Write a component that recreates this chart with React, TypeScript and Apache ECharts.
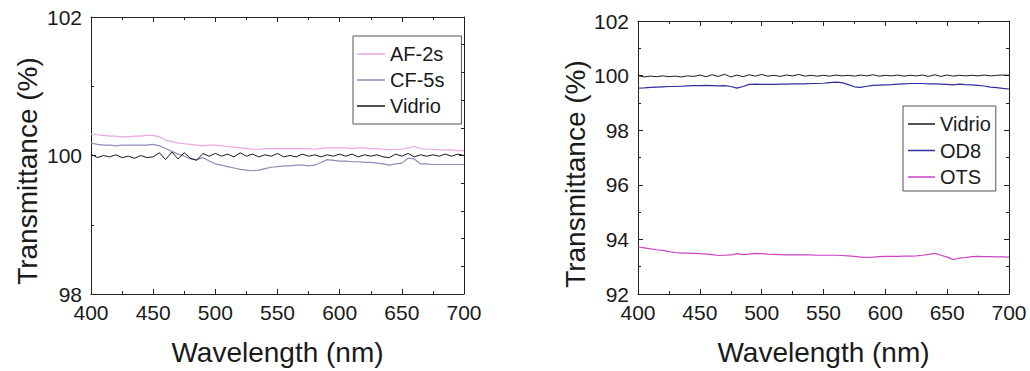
import React, { useEffect, useRef } from "react";
import * as echarts from "echarts";

const wavelength = [
  400, 405, 410, 415, 420, 425, 430, 435, 440, 445, 450, 455, 460, 465, 470, 475, 480, 485, 490, 495,
  500, 505, 510, 515, 520, 525, 530, 535, 540, 545, 550, 555, 560, 565, 570, 575, 580, 585, 590, 595,
  600, 605, 610, 615, 620, 625, 630, 635, 640, 645, 650, 655, 660, 665, 670, 675, 680, 685, 690, 695, 700,
];

const af2s = [
  100.31, 100.3, 100.29, 100.28, 100.28, 100.27, 100.27, 100.28, 100.28, 100.29, 100.29, 100.27, 100.22, 100.2, 100.18, 100.17, 100.16, 100.15, 100.14, 100.15,
  100.15, 100.14, 100.13, 100.12, 100.11, 100.1, 100.09, 100.09, 100.1, 100.1, 100.1, 100.1, 100.1, 100.1, 100.1, 100.1, 100.09, 100.1, 100.11, 100.11,
  100.11, 100.11, 100.1, 100.11, 100.11, 100.1, 100.1, 100.09, 100.08, 100.09, 100.09, 100.11, 100.13, 100.1, 100.09, 100.09, 100.08, 100.08, 100.08, 100.07, 100.07,
];

const cf5s = [
  100.18, 100.16, 100.15, 100.15, 100.14, 100.15, 100.15, 100.15, 100.15, 100.15, 100.16, 100.14, 100.1, 100.06, 100.02, 99.99, 99.95, 99.94, 99.97, 99.92,
  99.88, 99.86, 99.84, 99.82, 99.8, 99.79, 99.78, 99.79, 99.81, 99.83, 99.84, 99.85, 99.85, 99.86, 99.86, 99.85, 99.86, 99.9, 99.94, 99.93,
  99.92, 99.92, 99.91, 99.91, 99.9, 99.9, 99.89, 99.88, 99.86, 99.88, 99.89, 99.96, 99.95, 99.88, 99.88, 99.87, 99.87, 99.87, 99.87, 99.87, 99.87,
];

const vidrioLeft = [
  100.02, 99.97, 100.0, 99.98, 100.01, 99.97, 99.99, 99.96, 100.0, 99.97, 99.98, 100.04, 99.94, 100.05, 99.95, 100.04, 99.96, 99.93, 100.03, 99.99,
  100.03, 99.99, 100.02, 99.98, 100.04, 99.99, 100.02, 99.98, 100.01, 99.99, 100.03, 99.98, 100.0, 99.98, 100.02, 99.99, 100.01, 99.98, 100.01, 99.99,
  100.02, 99.99, 100.02, 99.98, 100.01, 99.99, 100.01, 99.98, 99.97, 100.02, 99.99, 100.03, 99.98, 100.01, 99.99, 100.01, 99.99, 100.02, 99.99, 100.02, 100.0,
];

const vidrioRight = [
  100.0, 99.95, 99.98, 99.96, 99.99, 99.96, 99.98, 99.95, 99.99, 99.97, 100.02, 99.96, 100.03, 99.97, 100.05, 99.95, 100.02, 99.96, 100.03, 99.98,
  100.04, 99.98, 100.01, 99.97, 100.02, 99.99, 100.04, 99.98, 100.01, 99.98, 100.01, 99.98, 100.02, 99.99, 100.01, 99.98, 100.02, 99.99, 100.03, 99.98,
  100.01, 99.99, 100.02, 99.98, 100.01, 99.99, 100.02, 99.97, 100.03, 99.97, 100.02, 99.98, 100.01, 99.99, 100.01, 99.99, 100.02, 99.99, 100.01, 100.02, 100.01,
];

const od8 = [
  99.54, 99.55, 99.57, 99.58, 99.59, 99.6, 99.6, 99.61, 99.62, 99.63, 99.63, 99.64, 99.63, 99.62, 99.63, 99.6, 99.54, 99.6, 99.68, 99.69,
  99.68, 99.68, 99.68, 99.69, 99.69, 99.7, 99.7, 99.7, 99.71, 99.71, 99.72, 99.74, 99.76, 99.74, 99.67, 99.59, 99.57, 99.61, 99.64, 99.65,
  99.66, 99.67, 99.69, 99.7, 99.71, 99.71, 99.71, 99.7, 99.7, 99.69, 99.68, 99.66, 99.69, 99.67, 99.66, 99.64, 99.62, 99.58, 99.56, 99.53, 99.51,
];

const ots = [
  93.73, 93.69, 93.65, 93.62, 93.6, 93.55, 93.52, 93.5, 93.5, 93.49, 93.48, 93.46, 93.44, 93.41, 93.42, 93.43, 93.48, 93.44, 93.46, 93.49,
  93.48, 93.46, 93.45, 93.44, 93.43, 93.43, 93.43, 93.43, 93.43, 93.42, 93.42, 93.42, 93.42, 93.41, 93.4, 93.38, 93.35, 93.34, 93.35, 93.37,
  93.38, 93.38, 93.38, 93.39, 93.39, 93.4, 93.42, 93.45, 93.49, 93.42, 93.35, 93.26, 93.32, 93.33, 93.37, 93.38, 93.37, 93.37, 93.36, 93.36, 93.35,
];

const leftNames = ["AF-2s", "CF-5s", "Vidrio"];
const rightNames = ["Vidrio", "OD8", "OTS"];
const yTitle = "Transmittance (%)";
const xTitle = "Wavelength (nm)";

const FONT = "Arial, 'Liberation Sans', sans-serif";
const TXT = "#1a1a1a";

const pairs = (ys: number[]) => wavelength.map((x, i) => [x, ys[i]]);

function xAxes(gridIndex: number) {
  const base = {
    type: "value",
    gridIndex,
    min: 400,
    max: 700,
    interval: 50,
    splitLine: { show: false },
    axisLine: { show: true, onZero: false, lineStyle: { color: "#222", width: 1 } },
    axisTick: { show: true, inside: true, length: 5, lineStyle: { color: "#222" } },
    minorTick: { show: true, splitNumber: 2, length: 3, lineStyle: { color: "#222" } },
  };
  return [
    {
      ...base,
      position: "bottom",
      name: xTitle,
      nameLocation: "middle",
      nameGap: 44,
      nameTextStyle: { fontSize: 28, color: TXT, fontFamily: FONT },
      axisLabel: { fontSize: 21, color: TXT, fontFamily: FONT, margin: 8 },
    },
    { ...base, position: "top", axisLabel: { show: false } },
  ];
}

function yAxes(gridIndex: number, min: number, max: number, minorSplit: number, rightSplit: number) {
  const base = {
    type: "value",
    gridIndex,
    min,
    max,
    interval: 2,
    splitLine: { show: false },
    axisLine: { show: true, onZero: false, lineStyle: { color: "#222", width: 1 } },
    axisTick: { show: true, inside: true, length: 5, lineStyle: { color: "#222" } },
  };
  return [
    {
      ...base,
      position: "left",
      axisLabel: { fontSize: 21, color: TXT, fontFamily: FONT, margin: 9 },
      minorTick: { show: true, splitNumber: minorSplit, length: 3, lineStyle: { color: "#222" } },
    },
    {
      ...base,
      position: "right",
      axisLabel: { show: false },
      minorTick: { show: true, splitNumber: rightSplit, length: 3, lineStyle: { color: "#222" } },
    },
  ];
}

function line(name: string, ys: number[], color: string, axis: number, width = 1.2) {
  return {
    type: "line",
    name,
    xAxisIndex: axis,
    yAxisIndex: axis,
    data: pairs(ys),
    showSymbol: false,
    symbol: "none",
    lineStyle: { color, width },
    itemStyle: { color },
  };
}

function yTitleText(x: number, y: number) {
  return {
    type: "text",
    x,
    y,
    rotation: Math.PI / 2,
    style: {
      text: yTitle,
      fill: TXT,
      font: `28px ${FONT}`,
      textAlign: "center",
      textVerticalAlign: "middle",
    },
  };
}

export default function App() {
  const ref = useRef<HTMLDivElement>(null);
  useEffect(() => {
    if (!ref.current) return;
    const chart = echarts.init(ref.current, undefined, { renderer: "svg" });
    const legendBase = {
      orient: "vertical",
      icon: "rect",
      itemWidth: 28,
      itemHeight: 1.5,
      itemGap: 6,
      borderColor: "#555",
      borderWidth: 1,
      borderRadius: 0,
      textStyle: { fontSize: 20, color: TXT, fontFamily: FONT, padding: [0, 0, 0, 0] },
    };
    chart.setOption({
      animation: false,
      backgroundColor: "#fff",
      grid: [
        { left: 91, top: 17, width: 373, height: 278 },
        { left: 638, top: 21, width: 371, height: 277 },
      ],
      xAxis: [...xAxes(0), ...xAxes(1)],
      yAxis: [...yAxes(0, 98, 102, 2, 5), ...yAxes(1, 92, 102, 2, 2)],
      legend: [
        { ...legendBase, data: leftNames, left: 353, top: 36, padding: [8, 17, 8, 4] },
        { ...legendBase, data: rightNames, left: 903, top: 106, padding: [8, 5, 4, 5], itemWidth: 27, itemGap: 6.5 },
      ],
      graphic: [yTitleText(27, 171), yTitleText(575, 174)],
      series: [
        line("AF-2s", af2s, "#eaa6e2", 0),
        line("CF-5s", cf5s, "#8a8fb8", 0),
        line("Vidrio", vidrioLeft, "#1a1a1a", 0, 1),
        line("Vidrio", vidrioRight, "#1a1a1a", 2, 1),
        line("OD8", od8, "#2f2f9e", 2),
        line("OTS", ots, "#cc44c4", 2),
      ],
    });
    return () => chart.dispose();
  }, []);
  return (
    <div
      ref={ref}
      style={{ position: "fixed", left: 0, top: 0, width: 1030, height: 371, background: "#fff" }}
    />
  );
}
